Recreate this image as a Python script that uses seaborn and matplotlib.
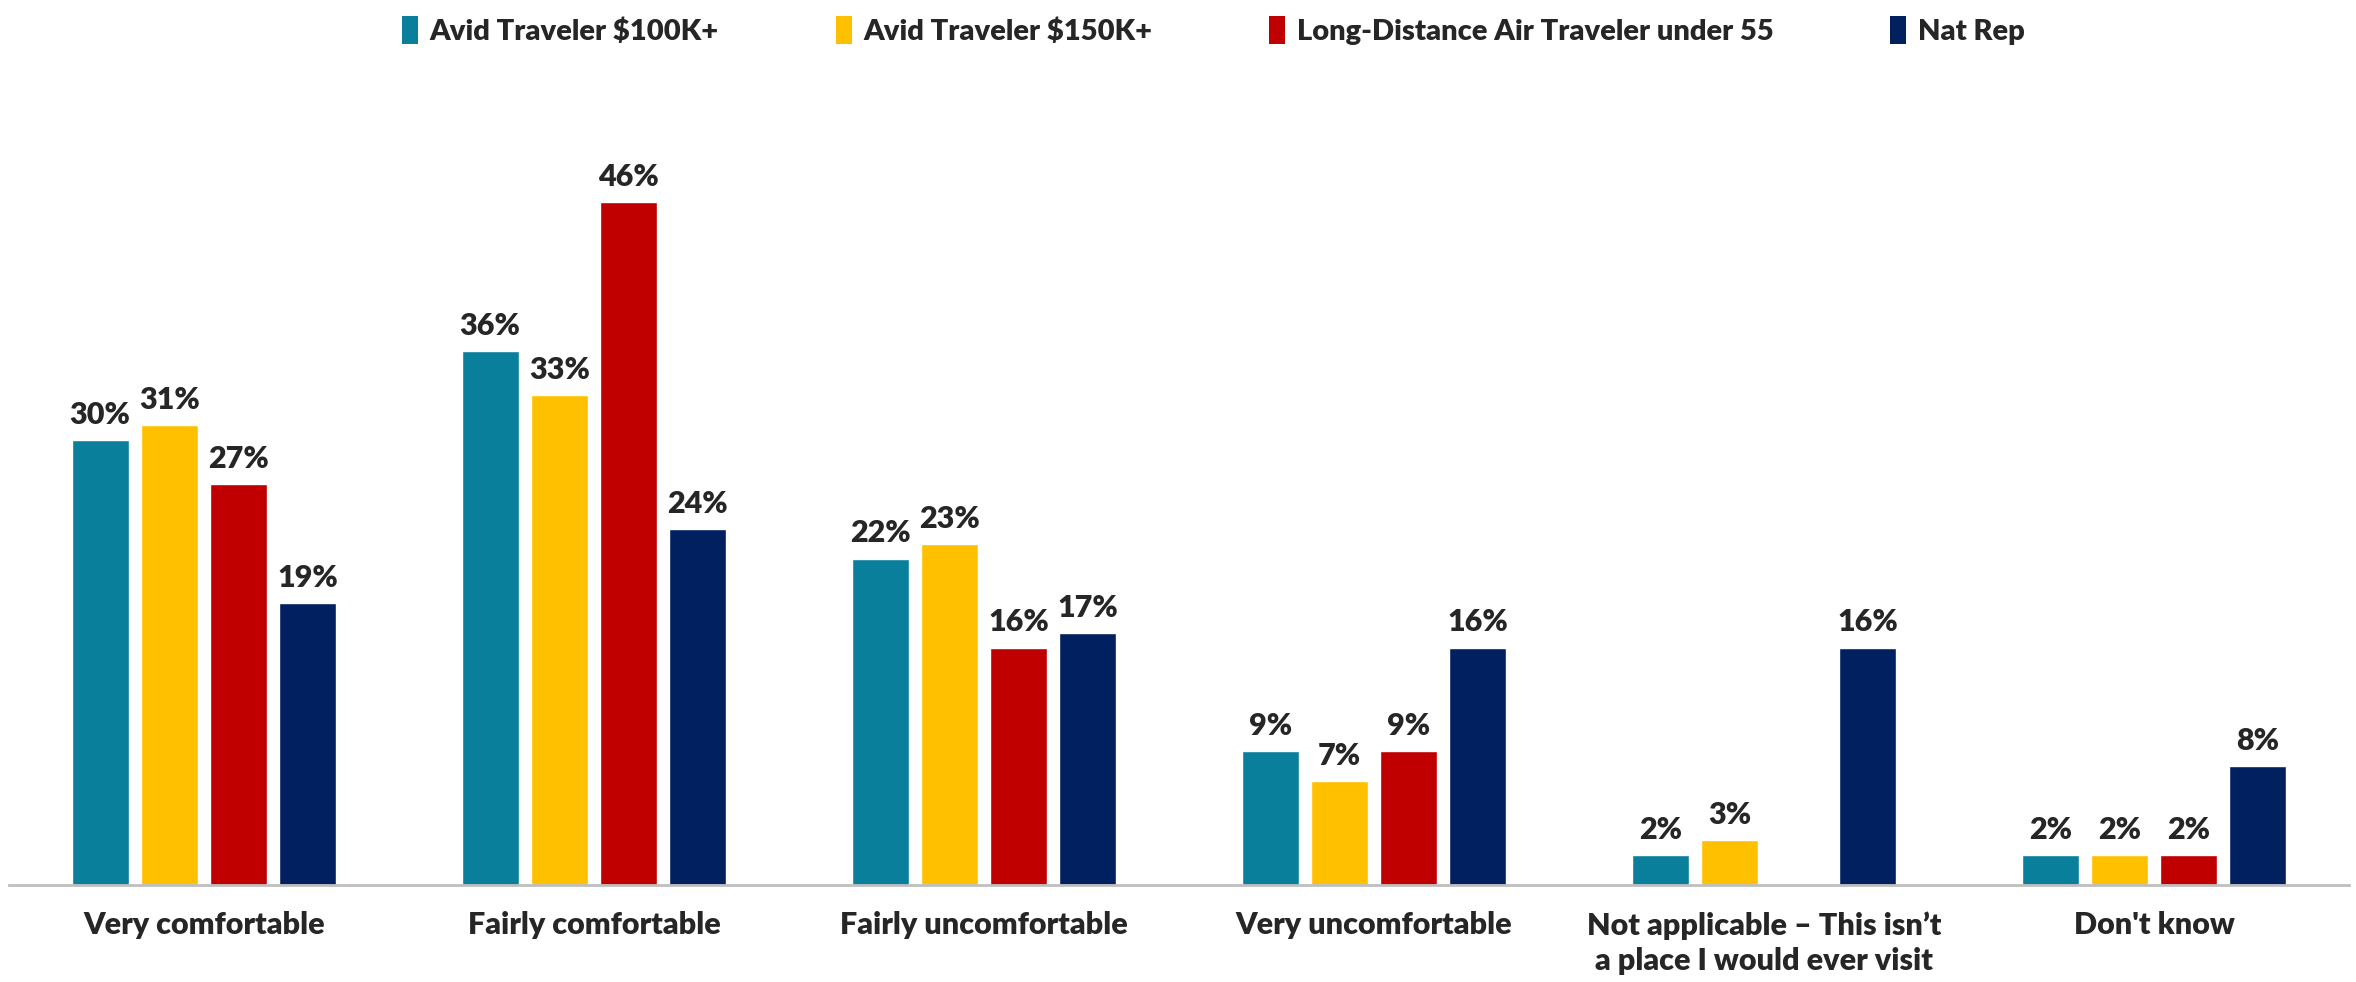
import numpy as np
import pandas as pd
import matplotlib
matplotlib.use("Agg")
import matplotlib.pyplot as plt
import seaborn as sns
from matplotlib.patches import Patch

# data
categories = ["Very comfortable", "Fairly comfortable", "Fairly uncomfortable",
              "Very uncomfortable", "Not applicable \u2013 This isn\u2019t\na place I would ever visit",
              "Don't know"]
series_names = ["Avid Traveler $100K+", "Avid Traveler $150K+",
                "Long-Distance Air Traveler under 55", "Nat Rep"]
avid_100k = [30, 36, 22, 9, 2, 2]
avid_150k = [31, 33, 23, 7, 3, 2]
long_dist = [27, 46, 16, 9, np.nan, 2]
nat_rep = [19, 24, 17, 16, 16, 8]
colors = ["#0A7F9C", "#FFC000", "#C00000", "#002060"]

rows = []
for name, vals in zip(series_names, [avid_100k, avid_150k, long_dist, nat_rep]):
    for cat, v in zip(categories, vals):
        rows.append({"Category": cat, "Group": name, "Value": v})
df = pd.DataFrame(rows)

sns.set_style("white")
plt.rcParams["font.family"] = ["Lato", "DejaVu Sans"]
plt.rcParams["font.weight"] = "heavy"

fig = plt.figure(figsize=(23.56, 9.82), dpi=100)
ax = fig.add_axes([9 / 2356, 97 / 982, 2340 / 2356, 742 / 982])

sns.barplot(data=df, x="Category", y="Value", hue="Group", order=categories,
            hue_order=series_names, palette=colors, width=0.71, gap=0.18,
            saturation=1, legend=False, ax=ax)

for cont in ax.containers:
    labels = ["" if np.isnan(v) else f"{v:.0f}%" for v in cont.datavalues]
    ax.bar_label(cont, labels=labels, padding=8, fontsize=22, fontweight="heavy")

ax.set_xlim(-0.5, len(categories) - 0.5)
ax.set_ylim(0, 50)
ax.set_xlabel("")
ax.set_ylabel("")
ax.set_yticks([])
for s in ["top", "left", "right"]:
    ax.spines[s].set_visible(False)
ax.spines["bottom"].set_color("#BFBFBF")
ax.spines["bottom"].set_linewidth(2)
ax.tick_params(axis="x", length=0, pad=19)
for lab in ax.get_xticklabels():
    lab.set_fontsize(22)
    lab.set_fontweight("heavy")
    lab.set_linespacing(1.3)
    lab.set_verticalalignment("top")

handles = [Patch(facecolor=c, edgecolor="none") for c in colors]
fig.legend(handles, series_names, loc="upper center", bbox_to_anchor=(0.515, 1.01),
           ncol=4, frameon=False, handlelength=0.55, handleheight=1.1,
           handletextpad=0.4, columnspacing=4.0, prop={"weight": "heavy", "size": 21})

fig.savefig("out.png", dpi=100, facecolor="white")
